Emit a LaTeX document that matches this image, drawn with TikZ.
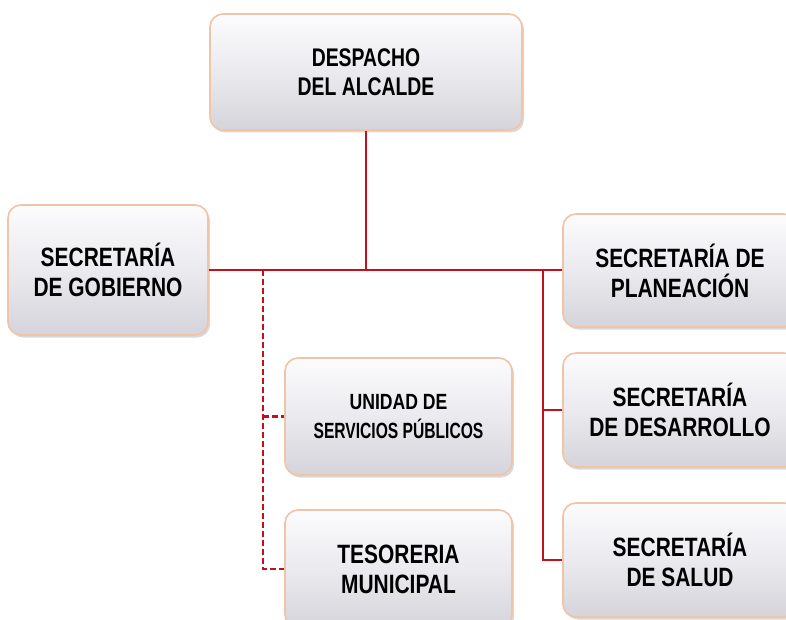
\documentclass[tikz,border=0pt]{standalone}
\usepackage{fontspec}
\setmainfont{Liberation Sans}
\newfontfamily\narrowfont[FakeStretch=0.76]{Liberation Sans}
\newfontfamily\boxfont[FakeStretch=0.79]{Liberation Sans}
\newfontfamily\widerfont[FakeStretch=0.80]{Liberation Sans}
\newfontfamily\narrowerfont[FakeStretch=0.71]{Liberation Sans}
\usetikzlibrary{shadows}
\definecolor{boxedge}{RGB}{240,196,166}
\definecolor{boxtop}{RGB}{252,252,253}
\definecolor{boxmid}{RGB}{234,234,239}
\definecolor{boxbot}{RGB}{212,212,218}
\definecolor{linkred}{RGB}{196,16,28}
\tikzset{
  orgbox/.style={rectangle, rounded corners=13pt, draw=boxedge, line width=1.6pt,
    top color=boxtop, bottom color=boxbot, middle color=boxmid,
    drop shadow={opacity=0.3, shadow xshift=2pt, shadow yshift=-2.5pt},
    align=center, inner sep=0pt, text=black,
    font=\boxfont\bfseries\fontsize{26.5}{30}\selectfont},
  topbox/.style={orgbox, font=\narrowfont\bfseries\fontsize{25.5}{29}\selectfont},
  smallbox/.style={orgbox, font=\narrowerfont\bfseries\fontsize{22}{29}\selectfont},
  solidlink/.style={draw=linkred, line width=2.5pt},
  dashlink/.style={draw=linkred, line width=2.5pt, dash pattern=on 6pt off 3pt}
}
\begin{document}
\begin{tikzpicture}[x=1pt,y=-1pt]
\useasboundingbox (0,0) rectangle (786,620);
\clip (0,0) rectangle (786,620);
\fill[white] (0,0) rectangle (786,620);
\coordinate (jr) at (543,270);
\coordinate (jl) at (263,270);
\node[topbox, minimum width=312pt, minimum height=116pt] (desp) at (366,72) {DESPACHO\\DEL ALCALDE};
\node[orgbox, minimum width=200pt, minimum height=130pt] (gob) at (108,270) {SECRETARÍA\\DE GOBIERNO};
\node[orgbox, minimum width=234pt, minimum height=113pt] (plan) at (680,270.5) {SECRETARÍA DE\\PLANEACIÓN};
\node[orgbox, minimum width=234pt, minimum height=114pt] (des) at (680,410) {SECRETARÍA\\DE DESARROLLO};
\node[orgbox, minimum width=234pt, minimum height=114pt] (sal) at (680,560) {SECRETARÍA\\DE SALUD};
\node[smallbox, minimum width=227pt, minimum height=117pt] (uni) at (398.5,416.5) {{\widerfont\bfseries UNIDAD DE}\\SERVICIOS PÚBLICOS};
\node[orgbox, minimum width=227pt, minimum height=118pt] (tes) at (398.5,569) {TESORERIA\\MUNICIPAL};
\draw[solidlink] (desp.south) -- (desp.south |- gob.east);
\draw[solidlink] (gob.east) -- (gob.east -| plan.west);
\draw[solidlink] (jr) |- (sal.west);
\draw[solidlink] (jr |- des.west) -- (des.west);
\draw[dashlink] (jl) |- (tes.west);
\draw[dashlink] (jl |- uni.west) -- (uni.west);
\end{tikzpicture}
\end{document}
